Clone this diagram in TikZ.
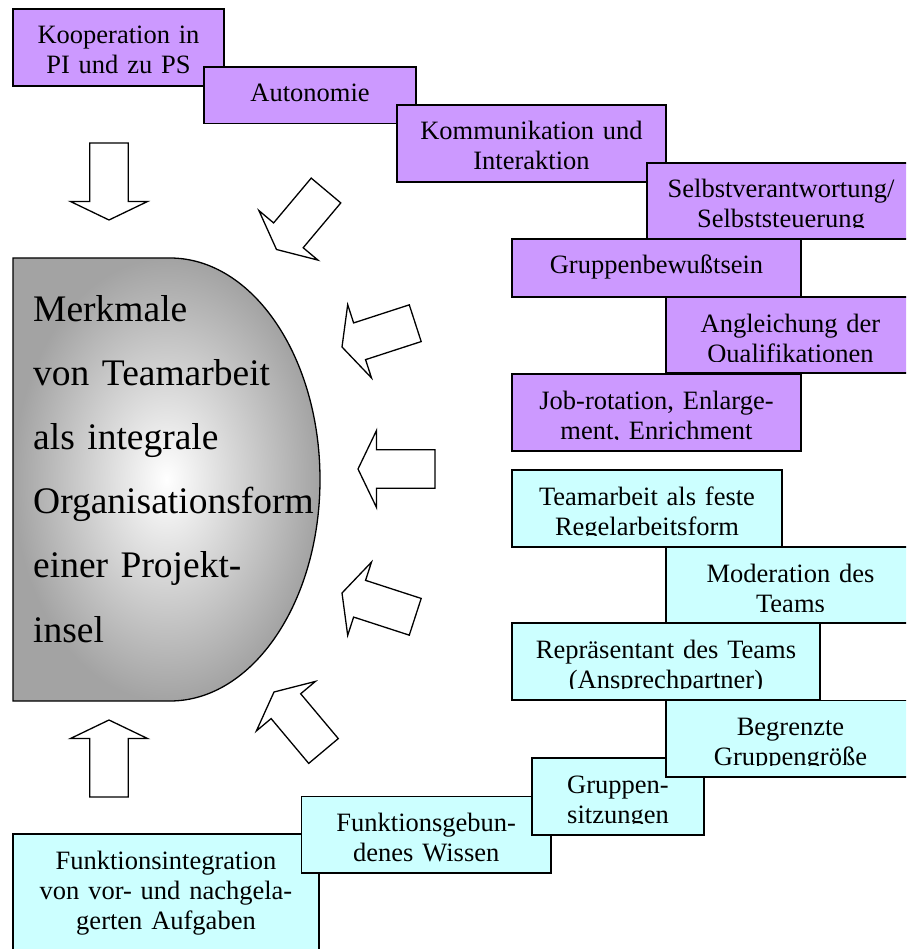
\documentclass[tikz,border=0pt]{standalone}
\usepackage{fontspec}
\setmainfont{Liberation Serif}
\definecolor{stufelila}{RGB}{204,153,255}
\definecolor{stufecyan}{RGB}{204,255,255}
\definecolor{kernrand}{RGB}{163,163,163}
\tikzset{
  stufebox/.style={rectangle, draw=black, line width=1.5pt, inner sep=0pt, outer sep=0pt},
  stufetext/.style={inner sep=0pt, align=center, font=\fontsize{26.5}{30}\selectfont},
  blockpfeil/.pic={
    \draw[fill=white, line width=1.3pt, line join=miter]
      (0,0) -- (18.5,-38.5) -- (18.5,-19.3) -- (77,-19.3) -- (77,19.3)
      -- (18.5,19.3) -- (18.5,38.5) -- cycle;}
}
% one step box: name, left, top, right, bottom, fill, text
\newcommand\stufe[7]{%
  \pgfmathsetmacro\stufew{#4-#2}%
  \pgfmathsetmacro\stufeh{#5-#3}%
  \pgfmathsetmacro\stufetw{#4-#2-12}%
  \node[stufebox, fill=#6, anchor=north west, minimum width=\stufew pt,
        minimum height=\stufeh pt] (#1) at (#2,#3) {};
  \begin{scope}
    \clip (#1.north west) rectangle ([yshift=11.5pt]#1.south east);
    \node[stufetext, text width=\stufetw pt, anchor=base] (#1-text)
      at ([yshift=-35pt]#1.north) {#7};
  \end{scope}}
\begin{document}
\begin{tikzpicture}[x=1pt,y=-1pt]
\useasboundingbox (0,0) rectangle (906,949);
\clip (0,0) rectangle (906,949);

% central D-shaped form
\shadedraw[inner color=white, outer color=kernrand, line width=1.3pt]
  (13,258) -- (170,258)
  .. controls (252.8,258) and (320,357.2) .. (320,479.5)
  .. controls (320,601.8) and (252.8,701) .. (170,701)
  -- (13,701) -- cycle;
\node[anchor=base west, inner sep=0pt, text width=295pt, align=left,
      font=\fontsize{37.5}{64.2}\selectfont] (merkmale) at (33,321)
  {Merkmale\\von Teamarbeit\\als integrale\\Organisationsform\\einer Projekt-\\insel};

% block arrows pointing at the central form
\pic[rotate=90]  (pfeil1) at (109,220)     {blockpfeil};
\pic[rotate=50]  (pfeil2) at (276.5,249.5) {blockpfeil};
\pic[rotate=18]  (pfeil3) at (342,347)     {blockpfeil};
\pic[rotate=0]   (pfeil4) at (358,469)     {blockpfeil};
\pic[rotate=-18] (pfeil5) at (342,593)     {blockpfeil};
\pic[rotate=-50] (pfeil6) at (274,692)     {blockpfeil};
\pic[rotate=-90] (pfeil7) at (109,720)     {blockpfeil};

% upper staircase
\stufe{s1}{13}{9}{224}{86}{stufelila}{Kooperation in\\PI und zu PS}
\stufe{s2}{204}{67}{416}{123.5}{stufelila}{Autonomie}
\stufe{s3}{397}{105}{666}{182}{stufelila}{Kommunikation und\\Interaktion}
\stufe{s4}{647}{163}{915}{239}{stufelila}{Selbstverantwortung/\\Selbststeuerung}
\stufe{s5}{512}{239}{801}{297}{stufelila}{Gruppenbewußtsein}
\stufe{s6}{666}{297}{915}{373}{stufelila}{Angleichung der\\Qualifikationen}
\stufe{s7}{512}{374}{801}{451}{stufelila}{Job-rotation, Enlarge-\\ment, Enrichment}

% lower staircase
\stufe{s8}{512}{470}{782}{547}{stufecyan}{Teamarbeit als feste\\Regelarbeitsform}
\stufe{s9}{666}{547}{915}{623}{stufecyan}{Moderation des\\Teams}
\stufe{s10}{512}{623}{820}{700}{stufecyan}{Repräsentant des Teams\\(Ansprechpartner)}
\stufe{s14}{13}{834}{319}{960}{stufecyan}{Funktionsintegration\\von vor- und nachgela-\\gerten Aufgaben}
\stufe{s13}{301.5}{796.5}{551}{873}{stufecyan}{Funktionsgebun-\\denes Wissen}
\stufe{s12}{532}{758}{704}{835}{stufecyan}{Gruppen-\\sitzungen}
\stufe{s11}{666}{700.5}{915}{777}{stufecyan}{Begrenzte\\Gruppengröße}
\end{tikzpicture}
\end{document}
